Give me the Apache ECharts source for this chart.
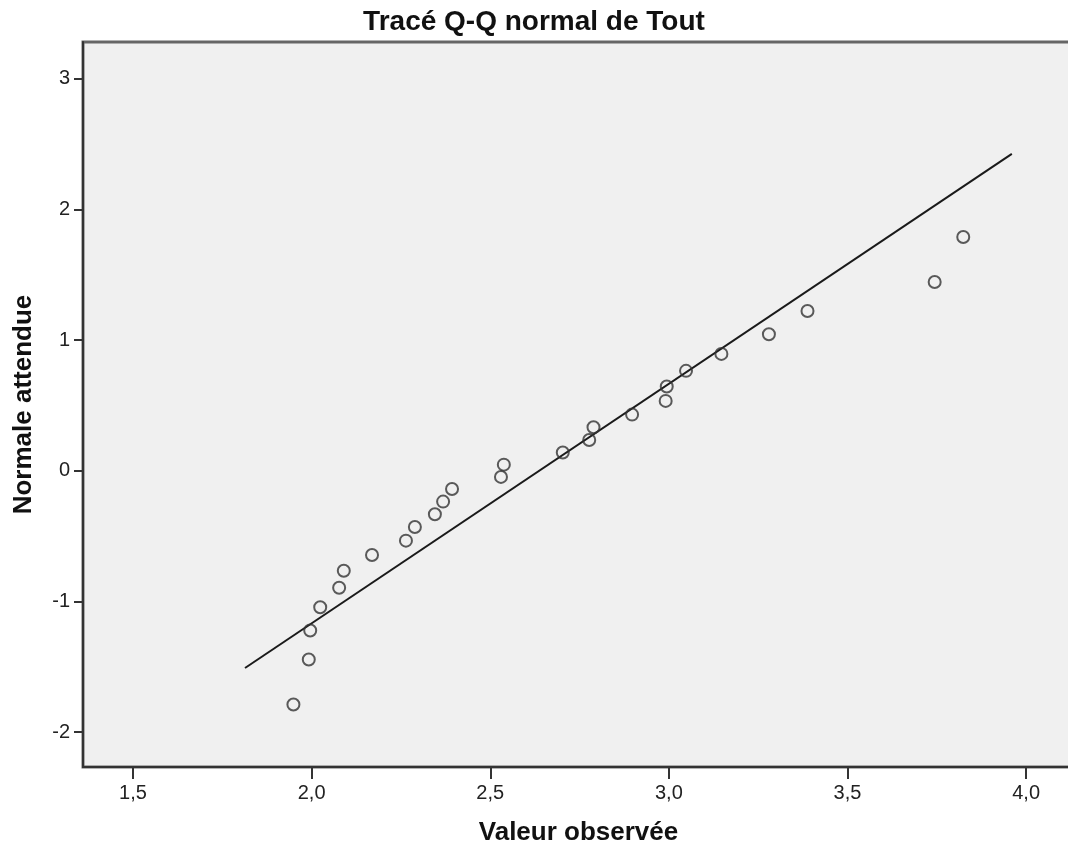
<!DOCTYPE html>
<html>
<head>
<meta charset="utf-8">
<title>Tracé Q-Q normal de Tout</title>
<script src="https://cdn.jsdelivr.net/npm/echarts@6/dist/echarts.min.js"></script>
<style>
  html, body { margin: 0; padding: 0; background: #fff; overflow: hidden; }
  #chart { width: 1068px; height: 851px; }
</style>
</head>
<body>
<div id="chart"></div>
<script>
const observed = [1.949, 1.992, 1.996, 2.024, 2.077, 2.090, 2.169, 2.264, 2.289, 2.345, 2.368, 2.393, 2.530,
  2.538, 2.703, 2.777, 2.789, 2.897, 2.991, 2.994, 3.048, 3.147, 3.280, 3.388, 3.744, 3.824]
const expected = [-1.79, -1.445, -1.223, -1.045, -0.895, -0.765, -0.645, -0.535, -0.43, -0.333, -0.236, -0.14, -0.047,
  0.047, 0.14, 0.236, 0.333, 0.43, 0.535, 0.645, 0.765, 0.895, 1.045, 1.223, 1.445, 1.79]

// droite de référence (extrémités)
const lineX = [1.8135, 3.96]
const lineY = [-1.51, 2.426]

const xTicks = [1.5, 2.0, 2.5, 3.0, 3.5, 4.0]
const yTicks = [-2, -1, 0, 1, 2, 3]

const FONT = '"Liberation Sans", Arial, sans-serif'

const chart = echarts.init(document.getElementById('chart'), null, { renderer: 'canvas' })

chart.setOption({
  backgroundColor: '#ffffff',
  animation: false,
  title: {
    text: 'Tracé Q-Q normal de Tout',
    left: 'center',
    top: 3,
    textStyle: { fontFamily: FONT, fontSize: 28, fontWeight: 'bold', color: '#111' }
  },
  grid: {
    left: 83, right: -6, top: 42, bottom: 84,
    outerBoundsMode: 'none',
    containLabel: false,
    show: true,
    backgroundColor: '#f0f0f0',
    borderColor: '#666',
    borderWidth: 3
  },
  xAxis: {
    type: 'value',
    min: 1.36,
    max: 4.134,
    name: 'Valeur observée',
    nameLocation: 'middle',
    nameGap: 53,
    nameTextStyle: { fontFamily: FONT, fontSize: 26, fontWeight: 'bold', color: '#111' },
    splitLine: { show: false },
    axisLine: { show: true, onZero: false, lineStyle: { color: '#333', width: 2 } },
    axisTick: { show: true, length: 12, customValues: xTicks, lineStyle: { color: '#333', width: 2 } },
    axisLabel: {
      customValues: xTicks,
      margin: 16,
      fontFamily: FONT,
      fontSize: 20,
      color: '#222',
      formatter: v => v.toFixed(1).replace('.', ',')
    }
  },
  yAxis: {
    type: 'value',
    min: -2.268,
    max: 3.283,
    name: 'Normale attendue',
    nameLocation: 'middle',
    nameRotate: 90,
    nameGap: 46,
    nameTextStyle: { fontFamily: FONT, fontSize: 26, fontWeight: 'bold', color: '#111' },
    splitLine: { show: false },
    axisLine: { show: true, onZero: false, lineStyle: { color: '#333', width: 2 } },
    axisTick: { show: true, length: 9, customValues: yTicks, lineStyle: { color: '#333', width: 2 } },
    axisLabel: {
      customValues: yTicks,
      margin: 13,
      fontFamily: FONT,
      fontSize: 20,
      color: '#222',
      formatter: v => String(v)
    }
  },
  series: [
    {
      type: 'line',
      data: lineX.map((x, i) => [x, lineY[i]]),
      showSymbol: false,
      lineStyle: { color: '#1a1a1a', width: 2 },
      z: 2
    },
    {
      type: 'scatter',
      data: observed.map((x, i) => [x, expected[i]]),
      symbol: 'circle',
      symbolSize: 12,
      itemStyle: { color: 'rgba(0,0,0,0)', borderColor: '#333', borderWidth: 2 },
      z: 3
    }
  ]
})
</script>
</body>
</html>
